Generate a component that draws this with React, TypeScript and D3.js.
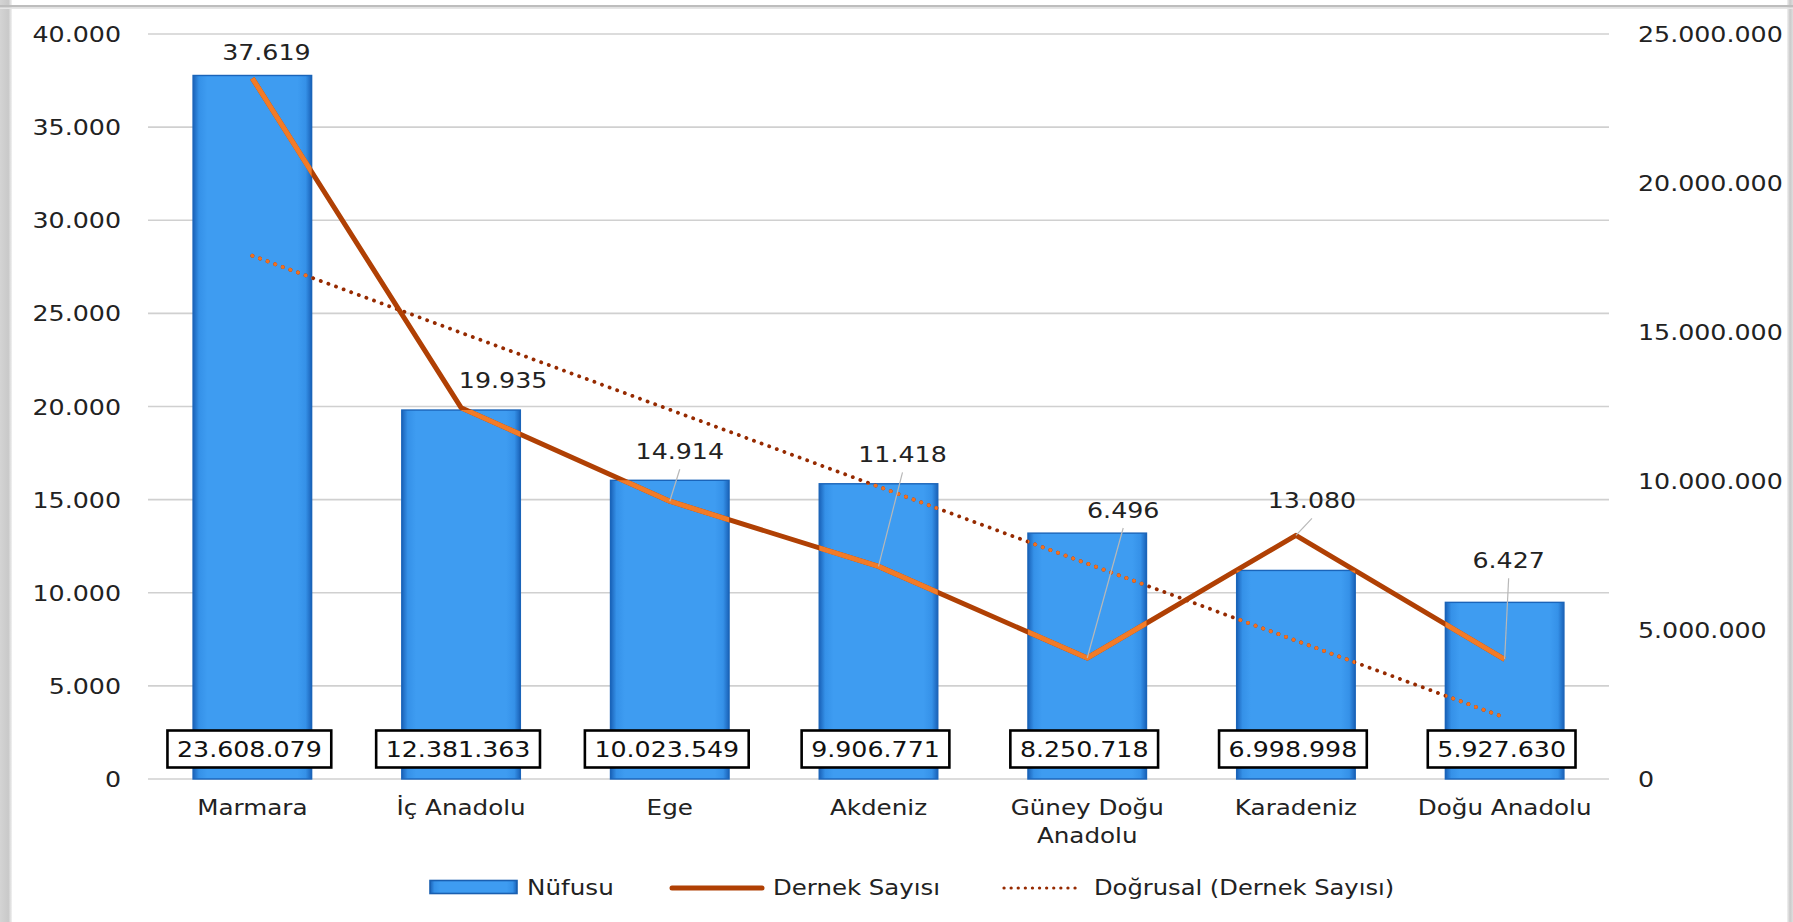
import React from "react";
import * as d3 from "d3";

// Regions, population (Nüfusu, right axis) and association count (Dernek Sayısı, left axis)
const categories = [
  "Marmara",
  "İç Anadolu",
  "Ege",
  "Akdeniz",
  "Güney Doğu Anadolu",
  "Karadeniz",
  "Doğu Anadolu",
];
const nufusu = [23608079, 12381363, 10023549, 9906771, 8250718, 6998998, 5927630];
const dernekSayisi = [37619, 19935, 14914, 11418, 6496, 13080, 6427];

const leftTicks = [0, 5000, 10000, 15000, 20000, 25000, 30000, 35000, 40000];
const rightTicks = [0, 5000000, 10000000, 15000000, 20000000, 25000000];

const legendLabels = ["Nüfusu", "Dernek Sayısı", "Doğrusal (Dernek Sayısı)"];

// Placement of the Dernek Sayısı labels relative to their points
const dernekLabelLayout = [
  { dx: 14, dy: -18, leader: false },
  { dx: 42, dy: -20, leader: false },
  { dx: 10, dy: -42, leader: true },
  { dx: 24, dy: -104, leader: true },
  { dx: 36, dy: -140, leader: true },
  { dx: 16, dy: -27, leader: true },
  { dx: 4, dy: -91, leader: true },
];

const W = 1793;
const H = 922;
const PLOT = { left: 148, right: 1609, top: 34, bottom: 779 };
const FONT = "'DejaVu Sans', Verdana, sans-serif";
const TEXT = "#222222";
const FS = 22;
const SX = 1.15;

const trLocale = d3.formatLocale({
  decimal: ",",
  thousands: ".",
  grouping: [3],
  currency: ["", " ₺"],
});
const fmt = trLocale.format(",d");

// Approximate advance widths (em) used to size the value boxes
const charEm = (c: string) => (c === "." ? 0.318 : 0.636);
const textWidth = (s: string, size = FS, sx = SX) =>
  s.split("").reduce((a, c) => a + charEm(c), 0) * size * sx;

function SText({
  x,
  y,
  anchor = "start",
  children,
  size = FS,
  sx = SX,
  fill = TEXT,
}: {
  x: number;
  y: number;
  anchor?: string;
  children: React.ReactNode;
  size?: number;
  sx?: number;
  fill?: string;
}) {
  return (
    <text
      transform={`translate(${x},${y}) scale(${sx},1)`}
      textAnchor={anchor as any}
      fontSize={size}
      fontFamily={FONT}
      fill={fill}
    >
      {children}
    </text>
  );
}

export default function App() {
  const x = d3
    .scaleBand<string>()
    .domain(categories)
    .range([PLOT.left, PLOT.right])
    .paddingInner(0.432)
    .paddingOuter(0.216);
  const yL = d3.scaleLinear().domain([0, 40000]).range([PLOT.bottom, PLOT.top]);
  const yR = d3.scaleLinear().domain([0, 25000000]).range([PLOT.bottom, PLOT.top]);
  const cx = (c: string) => (x(c) as number) + x.bandwidth() / 2;

  const pts: [number, number][] = categories.map((c, i) => [cx(c), yL(dernekSayisi[i])]);
  const line = d3.line<[number, number]>()(pts) as string;

  // Linear trend (least squares) of Dernek Sayısı over category index 1..n
  const n = dernekSayisi.length;
  const xs = d3.range(1, n + 1);
  const mx = d3.mean(xs) as number;
  const my = d3.mean(dernekSayisi) as number;
  const slope =
    d3.sum(xs.map((v, i) => (v - mx) * (dernekSayisi[i] - my))) /
    d3.sum(xs.map((v) => (v - mx) * (v - mx)));
  const icpt = my - slope * mx;
  const trend = d3.line<[number, number]>()([
    [cx(categories[0]), yL(icpt + slope * 1)],
    [cx(categories[n - 1]), yL(icpt + slope * n)],
  ]) as string;

  const bars = categories.map((c, i) => ({
    c,
    x: x(c) as number,
    y: yR(nufusu[i]),
    w: x.bandwidth(),
    h: PLOT.bottom - yR(nufusu[i]),
  }));

  const wrap = (c: string) => {
    const words = c.split(" ");
    const full = c.length * 0.62 * FS * 1.12;
    if (words.length > 2 && full > x.step()) {
      return [words.slice(0, -1).join(" "), words[words.length - 1]];
    }
    return [c];
  };

  const DARK = "#b04004";
  const LIGHT = "#f27b27";
  const TDARK = "#962a00";
  const TLIGHT = "#f07020";

  return (
    <svg
      width={W}
      height={H}
      style={{ position: "absolute", left: 0, top: 0, background: "#fff" }}
    >
      <defs>
        <linearGradient id="barFill" x1="0" x2="1" y1="0" y2="0">
          <stop offset="0" stopColor="#1a62b8" />
          <stop offset="0.05" stopColor="#3591e8" />
          <stop offset="0.12" stopColor="#3e9cf1" />
          <stop offset="0.88" stopColor="#3e9cf1" />
          <stop offset="0.95" stopColor="#3591e8" />
          <stop offset="1" stopColor="#1a62b8" />
        </linearGradient>
        <linearGradient id="frameLeft" x1="0" x2="1" y1="0" y2="0">
          <stop offset="0" stopColor="#d4d4d4" />
          <stop offset="0.7" stopColor="#c9c9c9" />
          <stop offset="1" stopColor="#f2f2f2" />
        </linearGradient>
        <linearGradient id="frameRight" x1="0" x2="1" y1="0" y2="0">
          <stop offset="0" stopColor="#f2f2f2" />
          <stop offset="0.5" stopColor="#c9c9c9" />
          <stop offset="1" stopColor="#dedede" />
        </linearGradient>
        <clipPath id="barsClip">
          {bars.map((b) => (
            <rect key={b.c} x={b.x} y={b.y} width={b.w} height={b.h} />
          ))}
        </clipPath>
      </defs>

      {/* outer frame shadow */}
      <rect x={0} y={0} width={12} height={H} fill="url(#frameLeft)" />
      <rect x={W - 6} y={0} width={6} height={H} fill="url(#frameRight)" />
      <rect x={0} y={5} width={W} height={2.5} fill="#bdbdbd" />
      <rect x={0} y={7.5} width={W} height={1.5} fill="#e6e6e6" />

      {/* gridlines */}
      {leftTicks.map((t) => (
        <line
          key={t}
          x1={PLOT.left}
          x2={PLOT.right}
          y1={yL(t)}
          y2={yL(t)}
          stroke="#d0d0d0"
          strokeWidth={1.6}
        />
      ))}

      {/* left axis labels */}
      {leftTicks.map((t) => (
        <SText key={t} x={121} y={yL(t) + 8} anchor="end">
          {fmt(t)}
        </SText>
      ))}

      {/* right axis labels */}
      {rightTicks.map((t) => (
        <SText key={t} x={1638} y={yR(t) + 8} anchor="start">
          {fmt(t)}
        </SText>
      ))}

      {/* population bars */}
      {bars.map((b) => (
        <rect
          key={b.c}
          x={b.x}
          y={b.y}
          width={b.w}
          height={b.h}
          fill="url(#barFill)"
          stroke="#1a64b9"
          strokeWidth={1.4}
        />
      ))}

      {/* trend line */}
      <path
        d={trend}
        fill="none"
        stroke={TDARK}
        strokeWidth={3.8}
        strokeLinecap="round"
        strokeDasharray="0.1 8"
      />
      <path
        d={trend}
        fill="none"
        stroke={TLIGHT}
        strokeWidth={3.8}
        strokeLinecap="round"
        strokeDasharray="0.1 8"
        clipPath="url(#barsClip)"
      />

      {/* association count line */}
      <path d={line} fill="none" stroke={DARK} strokeWidth={5} strokeLinejoin="round" />
      <path
        d={line}
        fill="none"
        stroke={LIGHT}
        strokeWidth={5}
        strokeLinejoin="round"
        clipPath="url(#barsClip)"
      />

      {/* Dernek Sayısı labels with leader lines */}
      {pts.map(([px, py], i) => {
        const L = dernekLabelLayout[i];
        const lx = px + L.dx;
        const ly = py + L.dy;
        return (
          <g key={categories[i]}>
            {L.leader && (
              <line
                x1={lx}
                y1={ly + 10}
                x2={px}
                y2={py}
                stroke="#b8b8b8"
                strokeWidth={1.2}
              />
            )}
            <SText x={lx} y={ly} anchor="middle">
              {fmt(dernekSayisi[i])}
            </SText>
          </g>
        );
      })}

      {/* Nüfusu value boxes */}
      {bars.map((b, i) => {
        const s = fmt(nufusu[i]);
        const tw = textWidth(s);
        const bw = tw + 19;
        const bcx = b.x + b.w / 2 - 3;
        const bcy = PLOT.bottom - 30;
        return (
          <g key={b.c}>
            <rect
              x={bcx - bw / 2}
              y={bcy - 18.5}
              width={bw}
              height={37}
              fill="#fff"
              stroke="#000"
              strokeWidth={2.6}
            />
            <SText x={bcx} y={bcy + 8} anchor="middle" fill="#111">
              {s}
            </SText>
          </g>
        );
      })}

      {/* category labels */}
      {categories.map((c) => {
        const lines = wrap(c);
        return (
          <g key={c}>
            {lines.map((l, k) => (
              <SText key={k} x={cx(c)} y={815 + k * 28} anchor="middle" sx={1.12}>
                {l}
              </SText>
            ))}
          </g>
        );
      })}

      {/* legend */}
      <rect x={430} y={880.5} width={87} height={13} fill="url(#barFill)" stroke="#1a5fb0" strokeWidth={1.6} />
      <SText x={527} y={895} sx={1.12}>
        {legendLabels[0]}
      </SText>
      <line x1={672} x2={762} y1={888} y2={888} stroke={DARK} strokeWidth={5} strokeLinecap="round" />
      <SText x={773} y={895} sx={1.11}>
        {legendLabels[1]}
      </SText>
      <line
        x1={1004}
        x2={1078}
        y1={888}
        y2={888}
        stroke={TDARK}
        strokeWidth={3.2}
        strokeLinecap="round"
        strokeDasharray="0.1 7"
      />
      <SText x={1094} y={895} sx={1.1}>
        {legendLabels[2]}
      </SText>
    </svg>
  );
}
